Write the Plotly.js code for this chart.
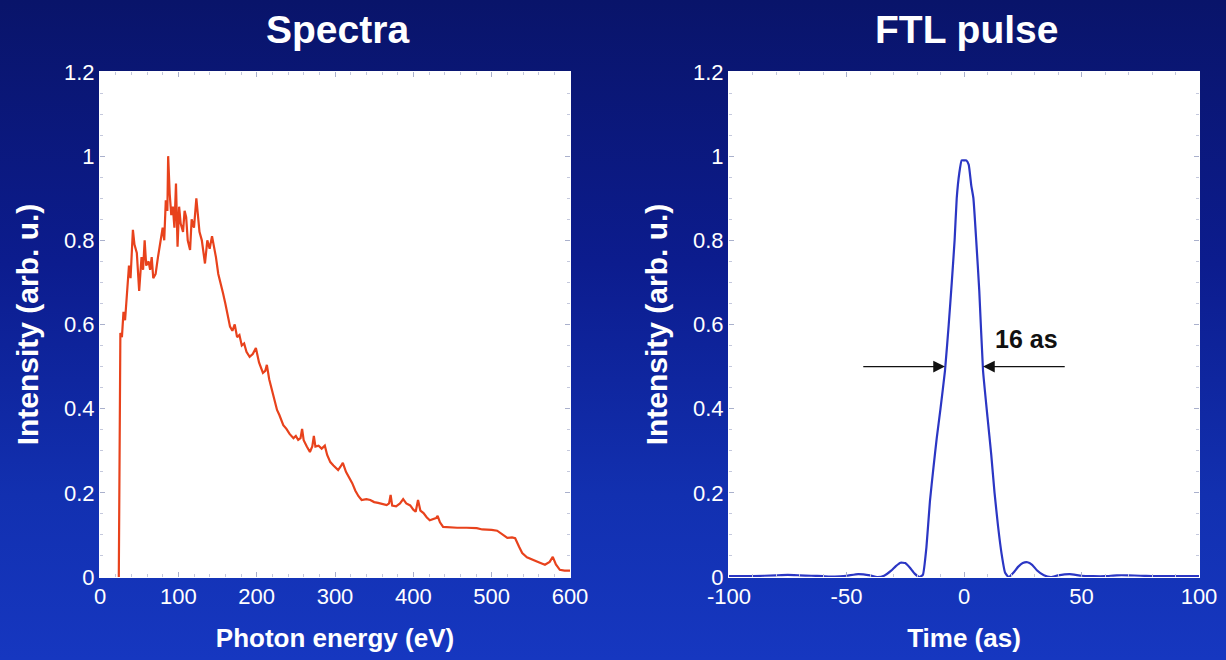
<!DOCTYPE html>
<html>
<head>
<meta charset="utf-8">
<script src="https://cdn.plot.ly/plotly-3.0.1.min.js"></script>
<style>
  html, body { margin:0; padding:0; width:1226px; height:660px; overflow:hidden; }
  body { background: linear-gradient(180deg, #09146a 0%, #0c1c8e 40%, #1230b0 75%, #1637c0 100%); }
  #chart { width:1226px; height:660px; }
</style>
</head>
<body>
<div id="chart"></div>
<script>
// Spectrum: photon energy (eV) vs intensity (arb. u.)
const spectrumEnergy = [24,25,26,28,30,32,34,36,37,39,42,44,47,50,53,55,57,59,62,64,66,68,71,74,77,80,82,84,86,87,89,91,93,95,97,99,101,103,106,108,110,112,115,117,120,123,125,127,130,132,134,137,140,143,146,148,151,154,157,160,163,166,169,172,175,178,181,184,187,191,195,199,203,208,211,213,216,220,223,226,229,232,234,238,242,247,250,253,256,258,260,264,268,271,273,275,279,283,287,290,294,298,301,304,307,310,314,318,322,326,330,334,340,345,350,355,360,366,369,371,373,378,383,387,391,396,400,403,406,409,413,417,421,425,429,431,434,438,445,456,468,481,488,494,500,507,514,520,526,530,535,539,545,553,560,568,574,578,582,587,593,600];
const spectrumIntensity = [0.0,0.45,0.58,0.57,0.63,0.61,0.66,0.70,0.74,0.71,0.825,0.79,0.77,0.68,0.76,0.73,0.80,0.74,0.75,0.73,0.76,0.71,0.72,0.76,0.80,0.83,0.80,0.895,0.87,1.0,0.91,0.86,0.88,0.83,0.935,0.785,0.88,0.84,0.82,0.87,0.855,0.80,0.777,0.85,0.83,0.90,0.86,0.82,0.80,0.77,0.745,0.80,0.78,0.81,0.78,0.76,0.72,0.70,0.675,0.65,0.62,0.595,0.585,0.60,0.57,0.575,0.55,0.555,0.535,0.523,0.53,0.544,0.51,0.485,0.49,0.504,0.47,0.44,0.42,0.397,0.385,0.37,0.361,0.352,0.34,0.33,0.335,0.326,0.33,0.352,0.325,0.31,0.297,0.31,0.335,0.31,0.312,0.305,0.312,0.29,0.273,0.265,0.26,0.254,0.262,0.271,0.25,0.237,0.223,0.205,0.192,0.183,0.185,0.183,0.178,0.176,0.174,0.171,0.175,0.195,0.17,0.168,0.175,0.185,0.175,0.17,0.16,0.155,0.183,0.158,0.152,0.142,0.135,0.137,0.14,0.145,0.13,0.119,0.118,0.117,0.117,0.116,0.113,0.113,0.112,0.11,0.10,0.093,0.094,0.092,0.072,0.057,0.047,0.04,0.035,0.029,0.036,0.048,0.03,0.017,0.015,0.015];

// FTL pulse: time (as) vs intensity (arb. u.)
const pulseTime = [-100,-90,-80,-75,-70,-65,-60,-55,-50,-45,-40,-37,-34,-31,-29,-27,-25,-23,-21,-19,-17.5,-16,-14.5,-13,-11.6,-10,-8.1,-6.5,-5.2,-4,-3.1,-2,-1,0,1,2,3.1,4,5.2,6.5,8.1,10,11.6,13,14.5,16,17.5,19,21,23,25,27,29,31,34,37,40,45,50,55,60,65,70,75,80,90,100];
const pulseIntensity = [0.002,0.002,0.004,0.005,0.004,0.003,0.002,0.001,0.003,0.007,0.004,0.0,0.003,0.015,0.026,0.034,0.033,0.022,0.008,0.0,0.005,0.07,0.18,0.26,0.33,0.40,0.49,0.60,0.70,0.80,0.90,0.96,0.99,0.99,0.99,0.98,0.93,0.90,0.80,0.68,0.49,0.38,0.29,0.20,0.12,0.055,0.01,0.0,0.01,0.024,0.033,0.035,0.029,0.016,0.004,0.0,0.004,0.007,0.003,0.002,0.002,0.004,0.004,0.003,0.002,0.002,0.002];

// Tick labels
const yTicks = [0,0.2,0.4,0.6,0.8,1,1.2];
const yTickText = ['0','0.2','0.4','0.6','0.8','1','1.2'];
const xTicksSpectrum = [0,100,200,300,400,500,600];
const xTickTextSpectrum = ['0','100','200','300','400','500','600'];
const xTicksPulse = [-100,-50,0,50,100];
const xTickTextPulse = ['-100','-50','0','50','100'];

// Annotation content
const fwhmLabel = '16 as';
const fwhmLeft = -8.1, fwhmRight = 8.1, fwhmLevel = 0.5;

const FONT = 'Arial, "Liberation Sans", Helvetica, sans-serif';
const tickFont = {family: FONT, size: 22, color: '#ffffff'};
const axTitleFont = {family: FONT, size: 26, color: '#ffffff'};

function xAxis(domain, range, tickvals, ticktext, titleText, minorD) {
  return {
    domain: domain, range: range, tickmode: 'array', tickvals: tickvals, ticktext: ticktext,
    ticks: 'inside', ticklen: 5, tickcolor: '#a9b0cc', tickwidth: 1,
    minor: {dtick: minorD, ticks: 'inside', ticklen: 3, tickcolor: '#c4c8dc'},
    showline: true, linecolor: '#ffffff', linewidth: 1, mirror: 'ticks',
    showgrid: false, zeroline: false, tickfont: tickFont,
    title: {text: '<b>' + titleText + '</b>', font: axTitleFont, standoff: 20},
    automargin: false, fixedrange: true
  };
}
function yAxis(domain) {
  return {
    domain: domain, range: [0, 1.2], tickmode: 'array', tickvals: yTicks, ticktext: yTickText,
    ticks: 'inside', ticklen: 5, tickcolor: '#a9b0cc', tickwidth: 1,
    minor: {dtick: 0.05, ticks: 'inside', ticklen: 3, tickcolor: '#c4c8dc'},
    showline: true, linecolor: '#ffffff', linewidth: 1, mirror: 'ticks',
    showgrid: false, zeroline: false, tickfont: tickFont,
    title: {text: '<b>Intensity (arb. u.)</b>', font: {family: FONT, size: 30, color: '#ffffff'}, standoff: 16},
    automargin: false, fixedrange: true
  };
}

const yDom = [1 - 577/660, 1 - 72/660];

const traces = [
  {x: spectrumEnergy, y: spectrumIntensity, type: 'scatter', mode: 'lines',
   line: {color: '#e8421c', width: 2.2}, xaxis: 'x', yaxis: 'y', hoverinfo: 'skip'},
  {x: pulseTime, y: pulseIntensity, type: 'scatter', mode: 'lines',
   line: {color: '#2b36c4', width: 2.2, shape: 'spline', smoothing: 0.4}, xaxis: 'x2', yaxis: 'y2', hoverinfo: 'skip'}
];

const layout = {
  width: 1226, height: 660,
  margin: {l: 0, r: 0, t: 0, b: 0},
  paper_bgcolor: 'rgba(0,0,0,0)',
  plot_bgcolor: '#ffffff',
  showlegend: false,
  xaxis: xAxis([100/1226, 570/1226], [0, 600], xTicksSpectrum, xTickTextSpectrum, 'Photon energy (eV)', 20),
  yaxis: yAxis(yDom),
  xaxis2: Object.assign(xAxis([729/1226, 1199/1226], [-100, 100], xTicksPulse, xTickTextPulse, 'Time (as)', 10), {anchor: 'y2'}),
  yaxis2: Object.assign(yAxis(yDom), {anchor: 'x2'}),
  annotations: [
    {text: '<b>Spectra</b>', xref: 'paper', yref: 'paper', x: 337/1226, y: 1 - 29/660,
     xanchor: 'center', yanchor: 'middle', showarrow: false,
     font: {family: FONT, size: 39, color: '#ffffff'}},
    {text: '<b>FTL pulse</b>', xref: 'paper', yref: 'paper', x: 966/1226, y: 1 - 29/660,
     xanchor: 'center', yanchor: 'middle', showarrow: false,
     font: {family: FONT, size: 39, color: '#ffffff'}},
    {text: '<b>' + fwhmLabel + '</b>', xref: 'x2', yref: 'y2', x: 26.5, y: 0.565,
     xanchor: 'center', yanchor: 'middle', showarrow: false,
     font: {family: FONT, size: 25, color: '#111111'}},
    {text: '', xref: 'x2', yref: 'y2', x: fwhmLeft, y: fwhmLevel,
     axref: 'x2', ayref: 'y2', ax: -43.5, ay: fwhmLevel,
     showarrow: true, arrowhead: 2, arrowsize: 1.8, arrowwidth: 1.3, arrowcolor: '#111111'},
    {text: '', xref: 'x2', yref: 'y2', x: fwhmRight, y: fwhmLevel,
     axref: 'x2', ayref: 'y2', ax: 43.5, ay: fwhmLevel,
     showarrow: true, arrowhead: 2, arrowsize: 1.8, arrowwidth: 1.3, arrowcolor: '#111111'}
  ]
};

Plotly.newPlot('chart', traces, layout, {staticPlot: true, displayModeBar: false});
</script>
</body>
</html>
